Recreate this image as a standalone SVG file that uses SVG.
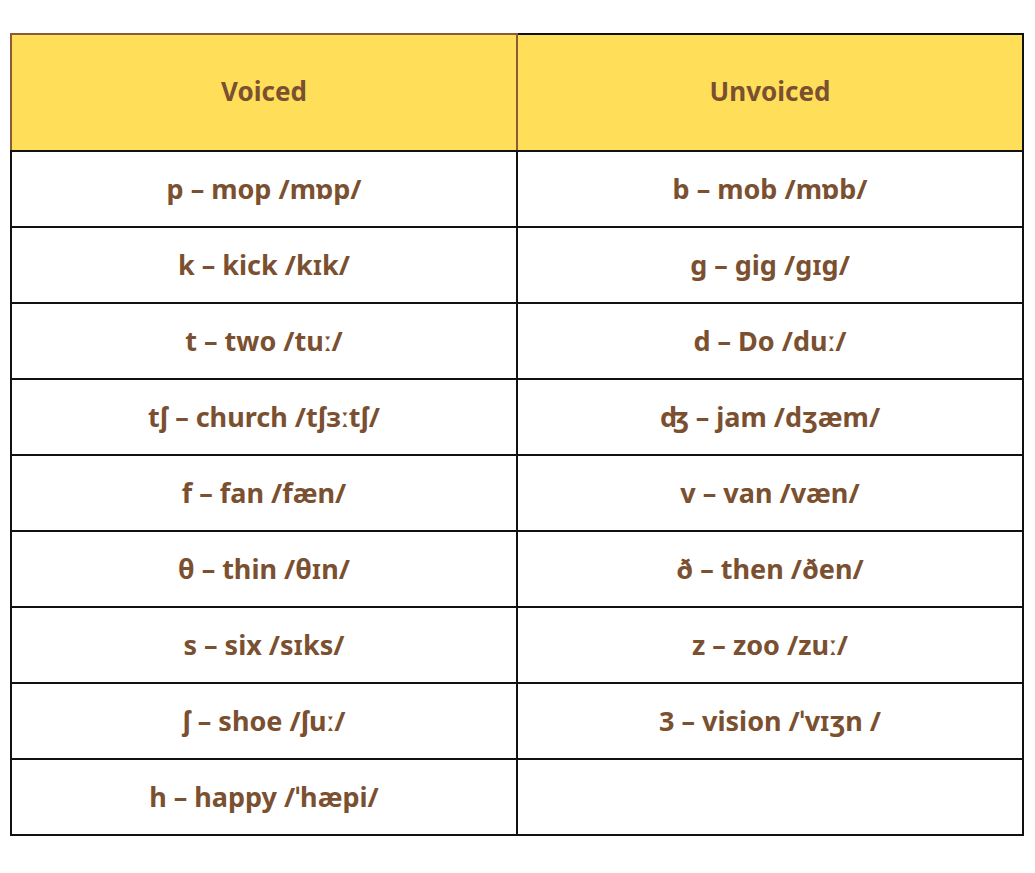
<svg xmlns="http://www.w3.org/2000/svg" width="1035" height="873" viewBox="0 0 1035 873">
<style>
.t{font-family:"Noto Sans","DejaVu Sans",sans-serif;font-weight:700;font-size:27px;fill:#7B5030;text-anchor:middle;dominant-baseline:central}
.h{font-size:26px}
.hd{fill:#FFDF5A;stroke-width:2}
</style>
<rect width="1035" height="873" fill="#FFFFFF"/>
<g id="header">
<rect class="hd" x="517" y="34" width="506" height="117" stroke="#111"/>
<rect class="hd" x="11" y="34" width="506" height="117" stroke="#8B5A36"/>
<text class="t h" x="264" y="91">Voiced</text>
<text class="t h" x="770" y="91">Unvoiced</text>
</g>
<g id="grid" fill="none" stroke="#111" stroke-width="2">
<rect x="11" y="151" width="1012" height="684"/>
<line x1="517" y1="151" x2="517" y2="835"/>
<line x1="11" y1="227" x2="1023" y2="227"/>
<line x1="11" y1="303" x2="1023" y2="303"/>
<line x1="11" y1="379" x2="1023" y2="379"/>
<line x1="11" y1="455" x2="1023" y2="455"/>
<line x1="11" y1="531" x2="1023" y2="531"/>
<line x1="11" y1="607" x2="1023" y2="607"/>
<line x1="11" y1="683" x2="1023" y2="683"/>
<line x1="11" y1="759" x2="1023" y2="759"/>
</g>
<g id="voiced">
<text class="t" x="264" y="188">p – mop /mɒp/</text>
<text class="t" x="264" y="264">k – kick /kɪk/</text>
<text class="t" x="264" y="340">t – two /tuː/</text>
<text class="t" x="264" y="416">tʃ – church /tʃɜːtʃ/</text>
<text class="t" x="264" y="492">f – fan /fæn/</text>
<text class="t" x="264" y="568">θ – thin /θɪn/</text>
<text class="t" x="264" y="644">s – six /sɪks/</text>
<text class="t" x="264" y="720">ʃ – shoe /ʃuː/</text>
<text class="t" x="264" y="796">h – happy /ˈhæpi/</text>
</g>
<g id="unvoiced">
<text class="t" x="770" y="188">b – mob /mɒb/</text>
<text class="t" x="770" y="264">g – gig /gɪg/</text>
<text class="t" x="770" y="340">d – Do /duː/</text>
<text class="t" x="770" y="416">ʤ – jam /dʒæm/</text>
<text class="t" x="770" y="492">v – van /væn/</text>
<text class="t" x="770" y="568">ð – then /ðen/</text>
<text class="t" x="770" y="644">z – zoo /zuː/</text>
<text class="t" x="770" y="720">3 – vision /ˈvɪʒn /</text>
</g>
</svg>
